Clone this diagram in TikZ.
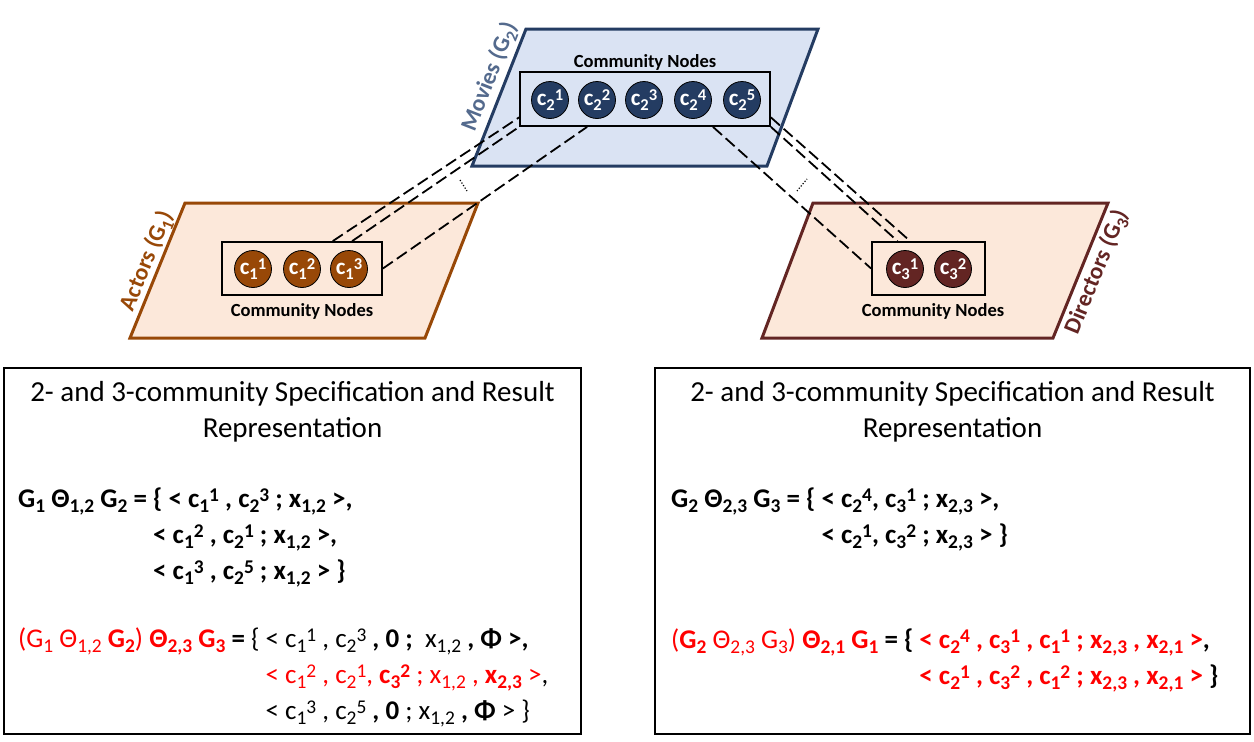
\documentclass[tikz,border=0pt]{standalone}
\usepackage{fontspec}
\setmainfont{Carlito}
\usetikzlibrary{calc}

\definecolor{movfill}{RGB}{218,227,243}
\definecolor{movline}{RGB}{36,60,98}
\definecolor{movtext}{RGB}{84,106,141}
\definecolor{actfill}{RGB}{252,232,218}
\definecolor{actline}{RGB}{152,72,7}
\definecolor{dirline}{RGB}{99,37,35}

\makeatletter
\newcommand\subx[1]{\raisebox{-0.22em}{\fontsize{\fpeval{0.72*\f@size}}{1}\selectfont #1}}
\newcommand\supx[1]{\raisebox{0.2em}{\fontsize{\fpeval{0.72*\f@size}}{1}\selectfont #1}}
\makeatother

\begin{document}
\begin{tikzpicture}[x=1pt,y=-1pt,
  plane/.style={line width=3pt},
  cbox/.style={draw,line width=1.8pt,inner sep=0pt},
  cnode/.style={circle,draw=black,line width=0.8pt,minimum size=37pt,inner sep=0pt,
    text=white,font=\fontsize{23}{23}\selectfont\bfseries},
  cnlab/.style={anchor=base,inner sep=0pt,font=\fontsize{18.5}{20}\selectfont\bfseries},
  glab/.style={inner sep=0pt,font=\fontsize{23.5}{24}\selectfont\bfseries},
  link/.style={line width=1.8pt,dash pattern=on 12pt off 5pt},
  more/.style={line width=1.2pt,dash pattern=on 1.2pt off 1.8pt},
  panel/.style={draw,line width=1.8pt,inner sep=0pt},
  ttl/.style={anchor=base,align=center,inner sep=0pt,font=\fontsize{29}{36}\selectfont},
  fml/.style={anchor=base west,inner sep=0pt,font=\fontsize{27}{36}\selectfont}]
  \useasboundingbox (0,0) rectangle (1254,742);

  % Planes
  \filldraw[plane,draw=movline,fill=movfill] (526,29) -- (818,29) -- (767,166) -- (472,166) -- cycle;
  \filldraw[plane,draw=actline,fill=actfill] (185,203) -- (478,203) -- (425,338) -- (130,338) -- cycle;
  \filldraw[plane,draw=dirline,fill=actfill] (813,203) -- (1108,203) -- (1053,338) -- (762,338) -- cycle;
  \node[glab,text=movtext,rotate=68.5] (movlab) at (490,77) {Movies (G\subx{2})};
  \node[glab,text=actline,rotate=67.8] (actlab) at (147,261) {Actors (G\subx{1})};
  \node[glab,text=dirline,rotate=67.8] (dirlab) at (1097,272) {Directors (G\subx{3})};

  % Community nodes
  \node[cbox,minimum width=250pt,minimum height=54pt] (movbox) at (645,99) {};
  \node[cbox,minimum width=160pt,minimum height=53pt] (actbox) at (302,268.5) {};
  \node[cbox,minimum width=113pt,minimum height=53pt] (dirbox) at (928.5,268.5) {};
  \foreach \i/\x in {1/550,2/597,3/644,4/693,5/742}
    \node[cnode,fill=movline] (m\i) at (\x,100) {c\subx{2}\supx{\i}};
  \foreach \i/\x in {1/253,2/302,3/349}
    \node[cnode,fill=actline] (a\i) at (\x,269) {c\subx{1}\supx{\i}};
  \foreach \i/\x in {1/905,2/953}
    \node[cnode,fill=dirline] (d\i) at (\x,269) {c\subx{3}\supx{\i}};
  \node[cnlab] (movcn) at (645,67) {Community Nodes};
  \node[cnlab] (actcn) at (302,316.5) {Community Nodes};
  \node[cnlab] (dircn) at (933,316.5) {Community Nodes};

  % Links between graphs
  \draw[link] ($(actbox.north west)!0.69!(actbox.north east)$) -- ($(movbox.north west)!0.83!(movbox.south west)$);
  \draw[link] ($(actbox.north west)!0.81!(actbox.north east)$) -- (movbox.south west);
  \draw[link] (actbox.east) -- ($(movbox.south west)!0.27!(movbox.south east)$);
  \draw[link] ($(movbox.south west)!0.77!(movbox.south east)$) -- (dirbox.west);
  \draw[link] ($(movbox.north east)!0.83!(movbox.south east)$) -- ($(dirbox.north west)!0.34!(dirbox.north east)$);
  \draw[link] (movbox.south east) -- ($(dirbox.north west)!0.23!(dirbox.north east)$);
  \draw[more] (460,180) -- (467,191);
  \draw[more] (797,191) -- (807,179);

  % Result panels
  \node[panel,minimum width=577pt,minimum height=366pt] (lpanel) at (292.5,551) {};
  \node[panel,minimum width=595pt,minimum height=366pt] (rpanel) at (952.5,551) {};
  \node[ttl] (ltitle) at (292.5,437) {2- and 3-community Specification and Result\\Representation};
  \node[ttl] (rtitle) at (952.5,437) {2- and 3-community Specification and Result\\Representation};

  \node[fml] (lspec) at (18,507) {\begin{tabular}[t]{@{}l@{\ }l@{}}
    \textbf{G\subx{1} Θ\subx{1,2} G\subx{2} =} & \textbf{\{ < c\subx{1}\supx{1} , c\subx{2}\supx{3} ; x\subx{1,2} >,}\\
    & \textbf{< c\subx{1}\supx{2} , c\subx{2}\supx{1} ; x\subx{1,2} >,}\\
    & \textbf{< c\subx{1}\supx{3} , c\subx{2}\supx{5} ; x\subx{1,2} > \}}
  \end{tabular}};
  \node[fml] (lres) at (18,647) {\begin{tabular}[t]{@{}l@{\ }l@{}}
    \textcolor{red}{(G\subx{1} Θ\subx{1,2} \textbf{G\subx{2}}) \textbf{Θ\subx{2,3} G\subx{3}}} \textbf{=} \{ &
      < c\subx{1}\supx{1} , c\subx{2}\supx{3} \textbf{, 0 ;}\ \ x\subx{1,2} \textbf{, Φ >,}\\
    & \textcolor{red}{< c\subx{1}\supx{2} , c\subx{2}\supx{1}, \textbf{c\subx{3}\supx{2}} ; x\subx{1,2} , \textbf{x\subx{2,3}} >},\\
    & < c\subx{1}\supx{3} , c\subx{2}\supx{5} \textbf{, 0} ; x\subx{1,2} \textbf{, Φ} > \}
  \end{tabular}};
  \node[fml] (rspec) at (671,507) {\begin{tabular}[t]{@{}l@{\ }l@{}}
    \textbf{G\subx{2} Θ\subx{2,3} G\subx{3} = \{} & \textbf{< c\subx{2}\supx{4}, c\subx{3}\supx{1} ; x\subx{2,3} >,}\\
    & \textbf{< c\subx{2}\supx{1}, c\subx{3}\supx{2} ; x\subx{2,3} > \}}
  \end{tabular}};
  \node[fml] (rres) at (671,648) {\begin{tabular}[t]{@{}l@{\ }l@{}}
    \textcolor{red}{(\textbf{G\subx{2}} Θ\subx{2,3} G\subx{3}) \textbf{Θ\subx{2,1} G\subx{1}}} \textbf{= \{} &
      \textbf{\textcolor{red}{< c\subx{2}\supx{4} , c\subx{3}\supx{1} , c\subx{1}\supx{1} ; x\subx{2,3} , x\subx{2,1} >},}\\
    & \textbf{\textcolor{red}{< c\subx{2}\supx{1} , c\subx{3}\supx{2} , c\subx{1}\supx{2} ; x\subx{2,3} , x\subx{2,1} >} \}}
  \end{tabular}};
\end{tikzpicture}
\end{document}
